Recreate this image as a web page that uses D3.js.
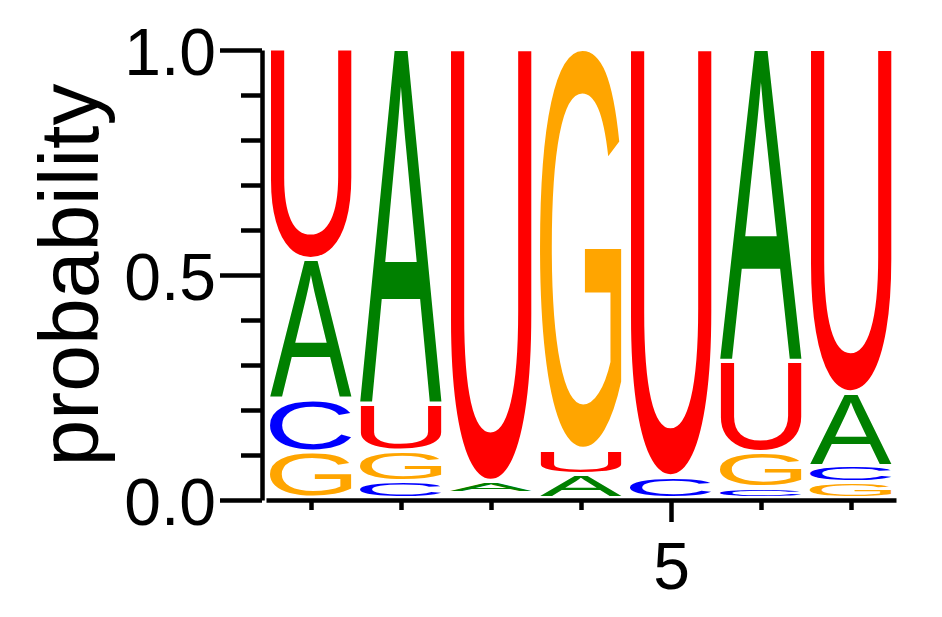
<!DOCTYPE html>
<html>
<head>
<meta charset="utf-8">
<script src="https://cdn.jsdelivr.net/npm/d3@7"></script>
<style>
  html, body { margin: 0; padding: 0; background: #fff; }
  svg { display: block; }
  text { font-family: "Liberation Sans", Arial, Helvetica, sans-serif; }
</style>
</head>
<body>
<div id="chart"></div>
<script>
const positions = [1, 2, 3, 4, 5, 6, 7];
const bases = ['A', 'C', 'G', 'U'];
const probA = [0.311, 0.790, 0.027, 0.053, 0.000, 0.695, 0.163];
const probC = [0.118, 0.038, 0.000, 0.000, 0.048, 0.024, 0.037];
const probG = [0.102, 0.067, 0.011, 0.891, 0.000, 0.078, 0.035];
const probU = [0.469, 0.105, 0.962, 0.056, 0.952, 0.203, 0.765];

const yTicksMajor = [0, 0.5, 1];
const yTicksMinor = [0.1, 0.2, 0.3, 0.4, 0.6, 0.7, 0.8, 0.9];
const xTicksMajor = [5];
const xTicksMinor = [1, 2, 3, 4, 6, 7];

const colors = { A: '#008000', C: '#0000ff', G: '#ffa500', U: '#ff0000' };
const probs = { A: probA, C: probC, G: probG, U: probU };

const width = 942, height = 617;
const letterWidth = 82;
const letterPad = 4; // gap under every glyph
const fontFamily = '"Liberation Sans", Arial, sans-serif';

const svg = d3.select('#chart').append('svg')
  .attr('width', width)
  .attr('height', height);

const x = d3.scaleLinear().domain([0.5, 7.5]).range([266, 896]);
const y = d3.scaleLinear().domain([0, 1]).range([500, 50]);

// ink bounds of each glyph, so the letter can be stretched to fill its box
const ctx = document.createElement('canvas').getContext('2d');
ctx.font = `100px ${fontFamily}`;
const glyphBox = {};
bases.forEach(b => {
  const m = ctx.measureText(b);
  glyphBox[b] = {
    left: m.actualBoundingBoxLeft,
    ascent: m.actualBoundingBoxAscent,
    w: m.actualBoundingBoxLeft + m.actualBoundingBoxRight,
    h: m.actualBoundingBoxAscent + m.actualBoundingBoxDescent
  };
});

// stack letters, smallest at the bottom
const stacks = positions.map((pos, i) => {
  const col = bases.map(b => ({ base: b, p: probs[b][i] }))
    .filter(d => d.p > 0)
    .sort((a, b) => a.p - b.p);
  let acc = 0;
  col.forEach(d => { d.y0 = acc; acc += d.p; d.y1 = acc; d.pos = pos; });
  return col;
});

const logo = svg.append('g').attr('class', 'logo');
stacks.flat().forEach(d => {
  const top = y(d.y1);
  const bottom = y(d.y0) - letterPad;
  const h = bottom - top;
  if (h < 2) return;
  const g = glyphBox[d.base];
  const left = x(d.pos) - letterWidth / 2;
  logo.append('text')
    .attr('font-size', 100)
    .attr('fill', colors[d.base])
    .attr('transform', `translate(${left},${top}) scale(${letterWidth / g.w},${h / g.h}) translate(${g.left},${g.ascent})`)
    .text(d.base);
});

// y axis: minor ticks + domain, then major ticks with labels
const axisStyle = sel => {
  sel.selectAll('path, line').attr('stroke', '#000').attr('stroke-width', 4.5);
};

svg.append('g')
  .attr('transform', 'translate(262,0)')
  .call(d3.axisLeft(y).tickValues(yTicksMinor).tickSize(21).tickSizeOuter(0).tickFormat(''))
  .call(axisStyle);

svg.append('g')
  .attr('transform', 'translate(262,0)')
  .call(d3.axisLeft(y).tickValues(yTicksMajor).tickSize(42).tickFormat(d3.format('.1f')))
  .call(axisStyle)
  .call(g => g.select('.domain').remove())
  .call(g => g.selectAll('text')
    .attr('x', -46)
    .attr('dy', '0.37em')
    .attr('font-size', 66)
    .attr('font-family', fontFamily)
    .attr('fill', '#000'));

// x axis
svg.append('g')
  .attr('transform', 'translate(0,500)')
  .call(d3.axisBottom(x).tickValues(xTicksMinor).tickSize(10).tickSizeOuter(0).tickFormat(''))
  .call(axisStyle);

svg.append('g')
  .attr('transform', 'translate(0,500)')
  .call(d3.axisBottom(x).tickValues(xTicksMajor).tickSize(22).tickFormat(d3.format('d')))
  .call(axisStyle)
  .call(g => g.select('.domain').remove())
  .call(g => g.selectAll('text')
    .attr('y', 89)
    .attr('dy', 0)
    .attr('font-size', 66)
    .attr('font-family', fontFamily)
    .attr('fill', '#000'));

// axis title
svg.append('text')
  .attr('transform', `translate(98,${y(0.5)}) rotate(-90)`)
  .attr('text-anchor', 'middle')
  .attr('font-size', 84)
  .attr('fill', '#000')
  .text('probability');
</script>
</body>
</html>
